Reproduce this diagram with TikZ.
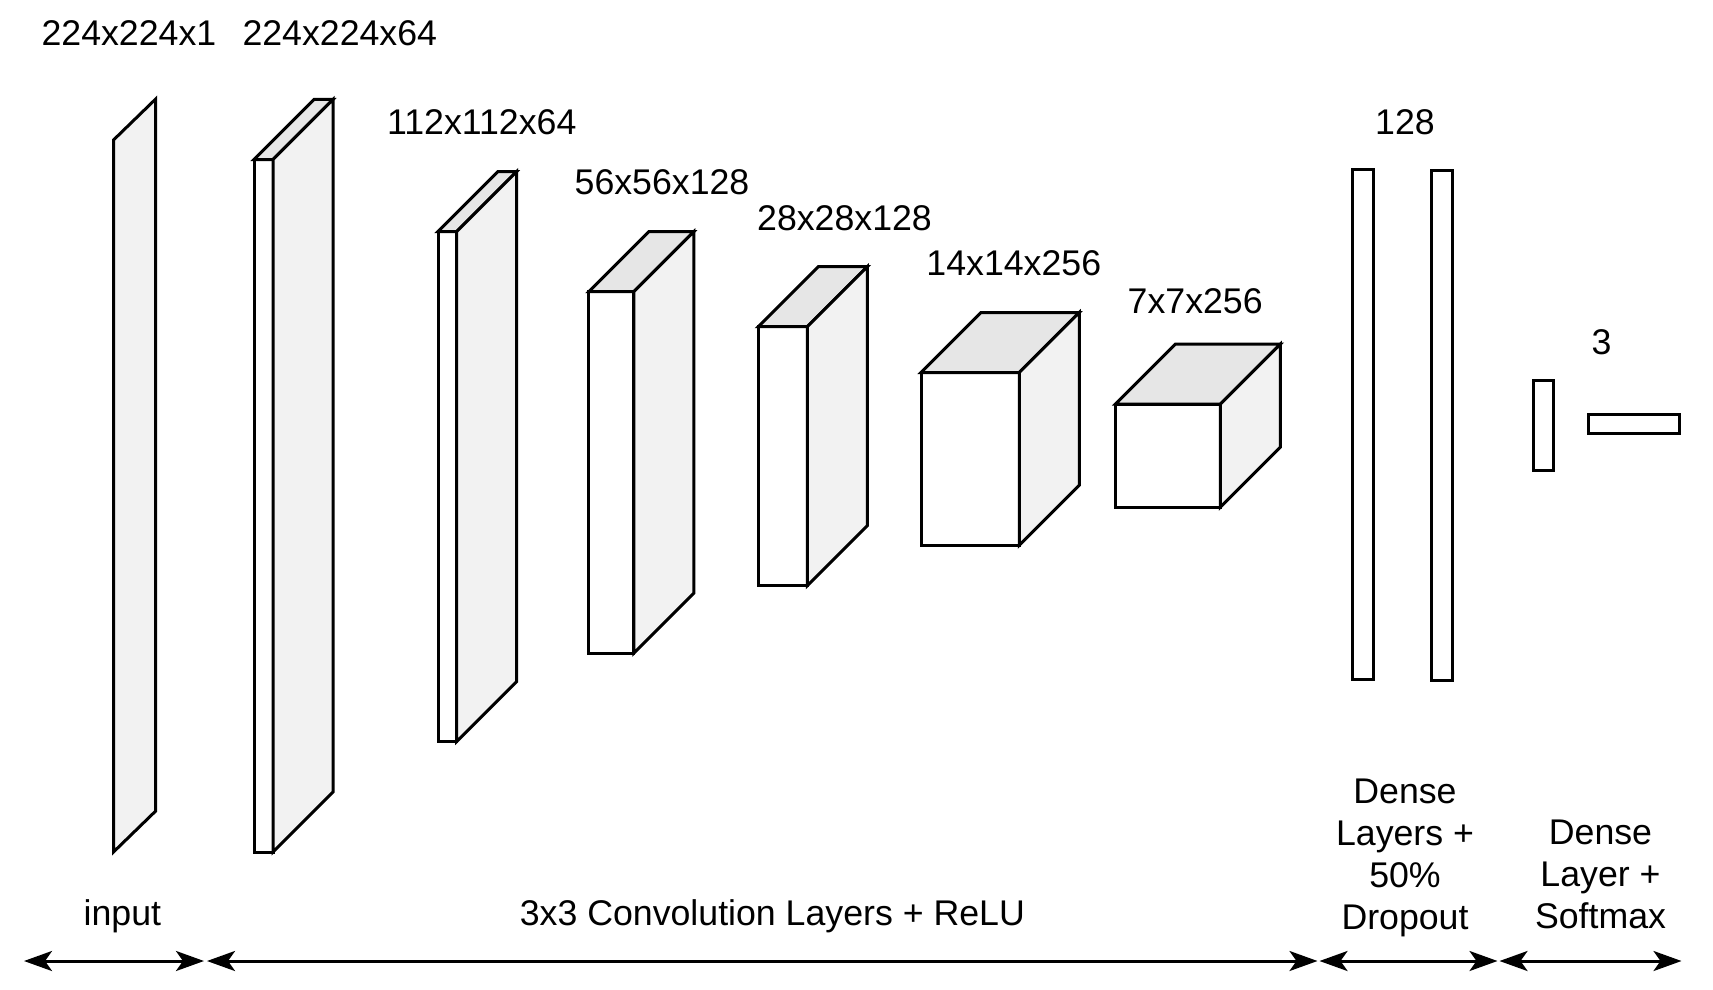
\documentclass[tikz,border=0pt]{standalone}
\usepackage{fontspec}
\setmainfont{Liberation Sans}
\usetikzlibrary{arrows.meta}
\definecolor{sideface}{HTML}{F2F2F2}
\definecolor{topface}{HTML}{E6E6E6}
\tikzset{
  face/.style={draw=black, line width=1.5pt, line join=miter},
  dimlabel/.style={font=\fontsize{17.85}{20.9}\selectfont, inner sep=0pt, align=center},
  span/.style={line width=1.5pt, {Stealth[length=14pt,width=10pt,inset=3.5pt]}-{Stealth[length=14pt,width=10pt,inset=3.5pt]}},
}
\begin{document}
\begin{tikzpicture}[x=0.5pt, y=-0.5pt]
\useasboundingbox (0,0) rectangle (1713,990);
% input slice
\filldraw[face, fill=sideface] (113.5,140) -- (155.7,99) -- (155.7,811) -- (113.5,852) -- cycle;
% conv blocks, x/y/w/h of the front face
\def\dep{60}
\foreach \x/\y/\w/\h in {254/159.5/19/692.5, 438/231.6/18.6/510, 588.8/291.7/45/361.6,
    758.2/326.7/49.2/259, 921/372.5/98.3/172.7, 1115.4/404.2/105/103} {
  \filldraw[face, fill=white] (\x,\y) rectangle ++(\w,\h);
  \filldraw[face, fill=topface] (\x,\y) -- ++(\dep,-\dep) -- ++(\w,0) -- ++(-\dep,\dep) -- cycle;
  \filldraw[face, fill=sideface] (\x+\w,\y) -- ++(\dep,-\dep) -- ++(0,\h) -- ++(-\dep,\dep) -- cycle;
}
% dense layers
\draw[face] (1352.5,169.3) rectangle (1373.3,679.5);
\draw[face] (1431.2,170.4) rectangle (1452,680.6);
\draw[face] (1533.9,380.2) rectangle (1553.5,470.9);
\draw[face] (1588.5,414) rectangle (1679.2,433.7);
% sizes
\node[dimlabel] (din) at (128.9,32.8) {224x224x1};
\node[dimlabel] (dc1) at (339.8,32.8) {224x224x64};
\node[dimlabel] (dc2) at (481.8,122.4) {112x112x64};
\node[dimlabel] (dc3) at (662,182.4) {56x56x128};
\node[dimlabel] (dc4) at (844.5,218.5) {28x28x128};
\node[dimlabel] (dc5) at (1013.8,263.3) {14x14x256};
\node[dimlabel] (dc6) at (1195.2,301.5) {7x7x256};
\node[dimlabel] (dfc) at (1405,122.4) {128};
\node[dimlabel] (dout) at (1601.6,342) {3};
% stages
\node[dimlabel] (tin) at (122.4,916) {input};
\node[dimlabel] (tconv) at (772.4,916) {3x3 Convolution Layers + ReLU};
\node[dimlabel] (tfc) at (1405,858) {Dense\\Layers +\\50\%\\Dropout};
\node[dimlabel] (tout) at (1600.5,874.5) {Dense\\Layer +\\Softmax};
\coordinate (s0) at (24,961);
\coordinate (s1a) at (204,961);
\coordinate (s1b) at (207,961);
\coordinate (s2a) at (1317.5,961);
\coordinate (s2b) at (1319.5,961);
\coordinate (s3a) at (1497.5,961);
\coordinate (s3b) at (1499.5,961);
\coordinate (s4) at (1681.5,961);
\draw[span] (s0) -- (s1a);
\draw[span] (s1b) -- (s2a);
\draw[span] (s2b) -- (s3a);
\draw[span] (s3b) -- (s4);
\end{tikzpicture}
\end{document}
